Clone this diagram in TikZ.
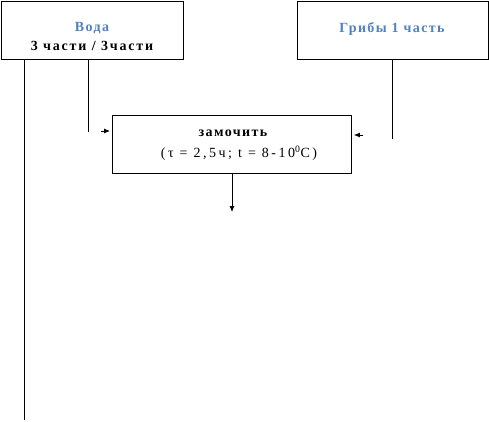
\documentclass[tikz,border=0pt]{standalone}
\usepackage{fontspec}
\setmainfont{Liberation Serif}
\usetikzlibrary{positioning}
\usetikzlibrary{arrows.meta}
\definecolor{headblue}{RGB}{79,129,189}
\newcommand{\boxfont}{\fontsize{14}{16}\selectfont\addfontfeature{LetterSpace=18}}
\newcommand{\boldfont}{\fontsize{14}{16}\selectfont\bfseries\addfontfeature{LetterSpace=10}}

\tikzset{
	stepbox/.style={draw, line width=0.9pt, inner sep=0pt, anchor=north west, minimum height=58pt},
	boxtext/.style={inner sep=0pt, font=\boxfont},
	boldtext/.style={inner sep=0pt, font=\boldfont},
	headtext/.style={boldtext, text=headblue},
	line/.style={line width=0.8pt}
}

\begin{document}
\begin{tikzpicture}[x=1pt, y=-1pt, >={Latex[length=6pt,width=5pt]}]
	\useasboundingbox (0,0) rectangle (489,421);
	% boxes
	\node[stepbox, minimum width=182pt] (voda) at (1,1) {};
	\node[stepbox, minimum width=191pt] (griby) at (297,1) {};
	\node[stepbox, minimum width=239pt] (soak) at (112,115) {};
	% texts
	\node[headtext] (vodaname) at (92,28) {Вода};
	\node[boldtext, font=\boldfont\addfontfeature{LetterSpace=13}] (vodaparts) at (92,46) {3 части / 3части};
	\node[headtext] (gribyname) at (392,29) {Грибы 1 часть};
	\node[boldtext] (soakname) at (233,133) {замочить};
	\node[boxtext] (soakcond) at (239,153) {(τ = 2,5ч; t = 8-10\textsuperscript{0}C)};
	% connectors
	\coordinate (vodadown) at (88,132);
	\coordinate (vodain) at (101,131);
	\coordinate (gribydown) at (392,139);
	\coordinate (gribyin) at (363,135);
	\coordinate (soakout) at (232,212);
	\coordinate (leftend) at (24,420);
	\draw[line] (vodadown |- voda.south) -- (vodadown);
	\draw[line, ->, shorten >=2pt] (vodain) -- (vodain -| soak.west);
	\draw[line] (gribydown |- griby.south) -- (gribydown);
	\draw[line, ->, shorten >=2pt] (gribyin) -- (gribyin -| soak.east);
	\draw[line, ->] (soakout |- soak.south) -- (soakout);
	\draw[line] (leftend |- voda.south) -- (leftend);
\end{tikzpicture}
\end{document}
